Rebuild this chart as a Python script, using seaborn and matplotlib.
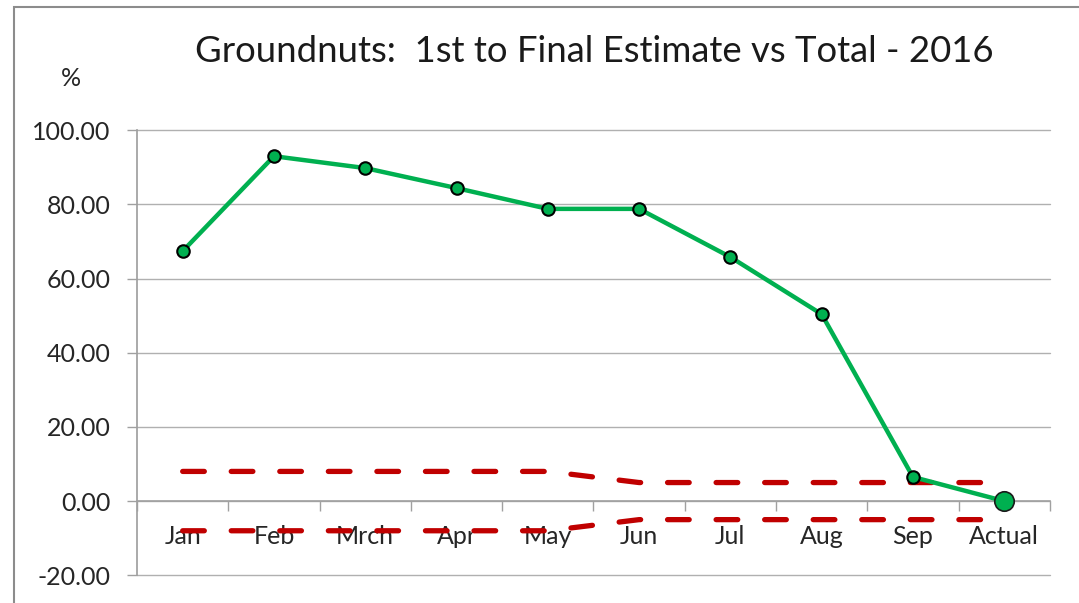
import numpy as np
import pandas as pd
import matplotlib
matplotlib.use("Agg")
import matplotlib.pyplot as plt
import seaborn as sns
from matplotlib.patches import Rectangle
from matplotlib.ticker import FixedLocator, FuncFormatter

# data
months = ["Jan", "Feb", "Mrch", "Apr", "May", "Jun", "Jul", "Aug", "Sep", "Actual"]
estimate = [67.4, 93.0, 89.8, 84.4, 78.8, 78.8, 65.8, 50.4, 6.5, 0.0]
upper_band = [8, 8, 8, 8, 8, 5, 5, 5, 5, 5]
lower_band = [-8, -8, -8, -8, -8, -5, -5, -5, -5, -5]
y_ticks = [-20, 0, 20, 40, 60, 80, 100]

df = pd.DataFrame({"pos": np.arange(len(months)), "month": months,
                   "estimate": estimate, "upper": upper_band, "lower": lower_band})

sns.set_theme(style="white")
plt.rcParams["font.family"] = ["Lato", "DejaVu Sans"]

fig = plt.figure(figsize=(10.79, 6.03), dpi=100)
ax = fig.add_axes([0.127, 0.046, 0.846, 0.738])

# outer chart frame
fig.patches.append(Rectangle((14 / 1079, -0.1), 1.2, 1.1 - 7 / 603,
                             transform=fig.transFigure, fill=False,
                             edgecolor="#8c8c8c", linewidth=1.5))

red = "#C00000"
green = "#00B050"
for col in ["upper", "lower"]:
    sns.lineplot(data=df, x="pos", y=col, ax=ax, color=red, linewidth=3.8,
                 dashes=False, zorder=3)
for ln in ax.lines:
    ln.set_linestyle((0, (4.1, 5.1)))
    ln.set_dash_capstyle("round")

sns.lineplot(data=df, x="pos", y="estimate", ax=ax, color=green, linewidth=3.2,
             marker="o", markersize=9, markerfacecolor=green,
             markeredgecolor="black", markeredgewidth=1.5, zorder=4)
# larger marker on the Actual point
last = df.iloc[-1]
ax.plot(last["pos"], last["estimate"], "o", markersize=14, color=green,
        markeredgecolor="#1a1a1a", markeredgewidth=1.2, zorder=5, clip_on=False)

ax.set_xlim(-0.5, len(months) - 0.5)
ax.set_ylim(-20, 100)
ax.set_yticks(y_ticks)
ax.yaxis.set_major_formatter(FuncFormatter(lambda v, p: f"{v:.2f}"))
ax.grid(axis="y", color="#b0b0b0", linewidth=1.0)
ax.grid(axis="x", visible=False)
for gl in ax.yaxis.get_gridlines():
    gl.set_clip_on(False)

# category axis crossing at zero
ax.spines["bottom"].set_position(("data", 0))
ax.spines["bottom"].set_color("#a0a0a0")
ax.spines["bottom"].set_linewidth(1.2)
ax.spines["left"].set_color("#a0a0a0")
ax.spines["top"].set_visible(False)
ax.spines["right"].set_visible(False)
ax.xaxis.set_major_locator(FixedLocator(np.arange(-0.5, len(months), 1.0)))
ax.xaxis.set_major_formatter(FuncFormatter(lambda v, p: ""))
ax.xaxis.set_minor_locator(FixedLocator(df["pos"]))
ax.set_xticklabels(months, minor=True)
ax.tick_params(axis="x", which="major", direction="out", length=7, width=1,
               color="#a0a0a0", bottom=True)
ax.tick_params(axis="x", which="minor", length=0, pad=17, labelsize=18,
               labelcolor="#262626")
ax.tick_params(axis="y", direction="out", length=7, width=1, color="#a0a0a0",
               left=True, labelsize=18, labelcolor="#262626", pad=12)
ax.set_xlabel("")
ax.set_ylabel("")

fig.text(0.551, 0.915, "Groundnuts:  1st to Final Estimate vs Total - 2016",
         ha="center", va="center", fontsize=26.3, color="#1a1a1a")
fig.text(0.066, 0.87, "%", ha="center", va="center", fontsize=18, color="#262626")

fig.savefig("out.png", dpi=100)
